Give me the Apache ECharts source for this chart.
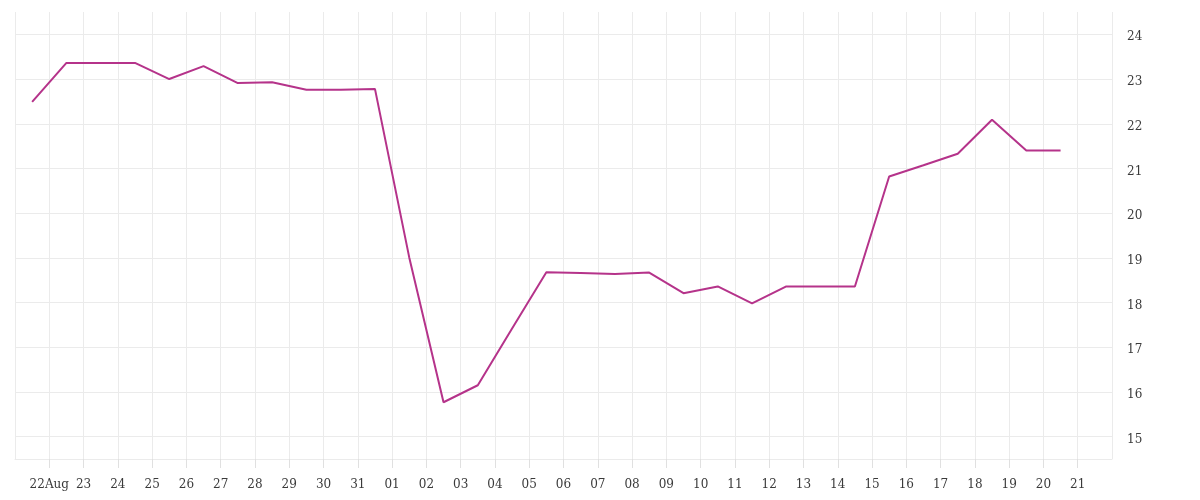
<!DOCTYPE html>
<html><head><meta charset="utf-8">
<script src="https://cdn.jsdelivr.net/npm/echarts@6/dist/echarts.min.js"></script>
<style>html,body{margin:0;padding:0;background:#fff}#c{width:1200px;height:500px}</style>
</head><body><div id="c"></div>
<script>
// Daily values, sampled at noon of each day from 21 Aug to 20 Sep
const dayLabels = ['21Aug','22Aug','23Aug','24Aug','25Aug','26Aug','27Aug','28Aug','29Aug','30Aug','31Aug',
  '01Sep','02Sep','03Sep','04Sep','05Sep','06Sep','07Sep','08Sep','09Sep','10Sep','11Sep','12Sep','13Sep',
  '14Sep','15Sep','16Sep','17Sep','18Sep','19Sep','20Sep'];
const values = [22.49, 23.36, 23.36, 23.36, 23.0, 23.29, 22.91, 22.93, 22.76, 22.76, 22.78,
  19.01, 15.77, 16.15, 17.42, 18.68, 18.66, 18.64, 18.67, 18.21, 18.36, 17.98, 18.36, 18.36,
  18.36, 20.82, 21.07, 21.33, 22.09, 21.40, 21.40];
// tick labels at day boundaries (midnight), from 21 Aug to 22 Sep
const xTickLabels = ['', '22Aug', '23', '24', '25', '26', '27', '28', '29', '30', '31',
  '01', '02', '03', '04', '05', '06', '07', '08', '09', '10', '11', '12', '13', '14', '15',
  '16', '17', '18', '19', '20', '21', ''];
const yTicks = [15, 16, 17, 18, 19, 20, 21, 22, 23, 24];

const chart = echarts.init(document.getElementById('c'), null, {renderer: 'canvas'});
const font = 'DejaVu Serif';
const gridColor = '#ebebeb';
chart.setOption({
  animation: false,
  backgroundColor: '#fff',
  grid: {left: 15, right: 88, top: 12, bottom: 41, containLabel: false},
  xAxis: {
    type: 'value', min: 0, max: xTickLabels.length - 1, interval: 1,
    axisLine: {show: true, lineStyle: {color: gridColor, width: 1}},
    axisTick: {show: true, inside: false, length: 9, lineStyle: {color: '#e0e0e0', width: 1}},
    splitLine: {show: true, lineStyle: {color: gridColor, width: 1}},
    axisLabel: {
      margin: 20, color: '#3a3a3a', fontFamily: font, fontSize: 12,
      showMinLabel: false, showMaxLabel: false,
      formatter: v => xTickLabels[Math.round(v)] || ''
    }
  },
  yAxis: {
    type: 'value', position: 'right',
    min: yTicks[0] - 0.5, max: yTicks[yTicks.length - 1] + 0.5, splitNumber: yTicks.length,
    axisLine: {show: false}, axisTick: {show: false},
    splitLine: {show: true, showMaxLine: false, showMinLine: false, lineStyle: {color: gridColor, width: 1}},
    axisLabel: {
      margin: 15, color: '#3a3a3a', fontFamily: font, fontSize: 12,
      verticalAlign: 'top', lineHeight: 6,
      formatter: v => (Number.isInteger(v) ? String(v) : '')
    }
  },
  series: [{
    type: 'line',
    data: values.map((v, i) => [i + 0.5, v]),
    showSymbol: false, symbol: 'none',
    lineStyle: {color: '#b5338a', width: 2},
    itemStyle: {color: '#b5338a'}
  }]
});
</script></body></html>
